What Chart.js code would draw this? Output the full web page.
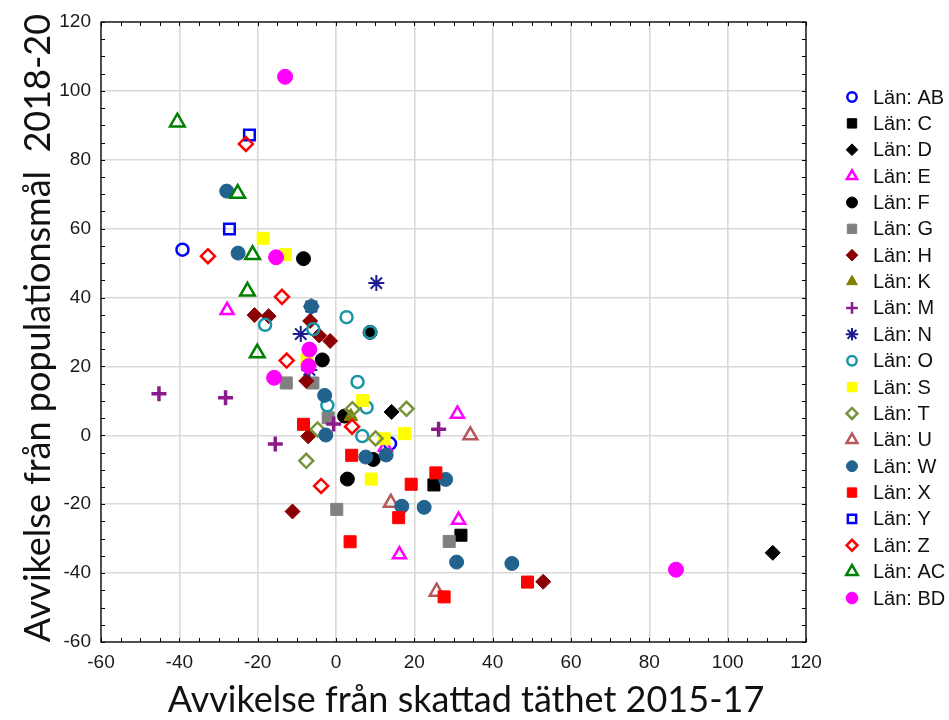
<!DOCTYPE html>
<html>
<head>
<meta charset="utf-8">
<script src="https://cdn.jsdelivr.net/npm/chart.js@4"></script>
<style>
  html, body { margin: 0; padding: 0; background: #ffffff; }
  #wrap { width: 949px; height: 720px; }
</style>
</head>
<body>
<div id="wrap"><canvas id="c" width="949" height="720"></canvas></div>
<script>
// Deviation from estimated density 2015-17 (x) vs deviation from population target 2018-20 (y), per county
const lanAB = [[-39.2, 53.9], [13.8, -2.4]];
const lanC  = [[25.0, -14.4], [31.9, -29.0]];
const lanD  = [[14.2, 6.8], [111.5, -34.1]];
const lanE  = [[-27.8, 36.3], [31.0, 6.2], [12.6, -3.4], [31.3, -24.6], [16.2, -34.6]];
const lanF  = [[-8.3, 51.3], [8.7, 29.9], [-3.5, 21.9], [2.2, 5.6], [9.5, -7.0], [2.9, -12.7]];
const lanG  = [[-12.7, 15.2], [-5.9, 15.2], [-2.0, 5.1], [0.2, -21.5], [28.9, -30.8]];
const lanH  = [[-20.8, 34.9], [-17.2, 34.6], [-6.6, 33.2], [-4.3, 29.0], [-1.5, 27.4], [-7.6, 15.8], [-7.1, -0.3], [-11.1, -22.1], [52.9, -42.5]];
const lanK  = [[3.8, 5.5]];
const lanM  = [[-45.2, 12.1], [-28.2, 10.9], [-15.5, -2.5], [-0.6, 3.3], [26.2, 1.8]];
const lanN  = [[10.3, 44.2], [-6.3, 37.4], [-9.0, 29.4], [-6.8, 19.0]];
const lanO  = [[-18.1, 32.1], [2.7, 34.3], [-5.8, 30.8], [8.7, 29.9], [5.5, 15.5], [-2.2, 8.7], [7.8, 8.1], [6.7, -0.2]];
const lanS  = [[-18.6, 57.2], [-12.9, 52.5], [-7.4, 22.0], [6.8, 10.1], [12.3, -1.0], [17.5, 0.5], [9.0, -12.7]];
const lanT  = [[18.0, 7.7], [4.2, 7.6], [-4.7, 1.7], [10.1, -0.9], [-7.6, -7.4]];
const lanU  = [[34.3, 0.0], [14.0, -19.6], [25.7, -45.4]];
const lanW  = [[-27.9, 70.9], [-25.0, 52.9], [-6.3, 37.4], [-2.9, 11.6], [-2.6, 0.1], [7.6, -6.3], [12.8, -5.7], [28.0, -12.8], [16.8, -20.6], [22.5, -20.9], [30.8, -36.8], [44.9, -37.2]];
const lanX  = [[-8.3, 3.2], [4.0, -5.8], [25.5, -10.9], [19.2, -14.2], [16.0, -23.9], [3.6, -30.9], [48.9, -42.6], [27.6, -46.9]];
const lanY  = [[-22.1, 87.2], [-27.2, 59.9]];
const lanZ  = [[-23.0, 84.6], [-32.7, 52.0], [-13.8, 40.2], [-12.6, 21.7], [4.1, 2.5], [-3.8, -14.7]];
const lanAC = [[-40.5, 90.9], [-25.1, 70.2], [-21.3, 52.4], [-22.6, 41.8], [-20.1, 23.9]];
const lanBD = [[-13.0, 104.1], [-15.3, 51.7], [-6.8, 24.9], [-7.0, 20.1], [-15.8, 16.7], [86.8, -39.0]];

const lanCodes = ['AB', 'C', 'D', 'E', 'F', 'G', 'H', 'K', 'M', 'N', 'O', 'S', 'T', 'U', 'W', 'X', 'Y', 'Z', 'AC', 'BD'];
const lanValues = [lanAB, lanC, lanD, lanE, lanF, lanG, lanH, lanK, lanM, lanN, lanO, lanS, lanT, lanU, lanW, lanX, lanY, lanZ, lanAC, lanBD];

const axisMin = -60;
const axisMax = 120;
const axisStep = 20;
const xTitle = 'Avvikelse från skattad täthet 2015-17';
const yTitle = 'Avvikelse från populationsmål  2018-20';

// marker look for each county: [pointStyle, colour, filled, radius, borderWidth]
const markerStyles = {
  AB: ['circle',   '#0000ff', false, 6,   2.5],
  C:  ['rect',     '#000000', true,  8.5, 1],
  D:  ['rectRot',  '#000000', true,  7.5, 1],
  E:  ['triangle', '#ff00ff', false, 7.5, 2.5],
  F:  ['circle',   '#000000', true,  7,   1],
  G:  ['rect',     '#808080', true,  8.5, 1],
  H:  ['rectRot',  '#8b0000', true,  7.5, 1],
  K:  ['triangle', '#808000', true,  8,   1],
  M:  ['cross',    '#8b1a8b', false, 7.5, 3.5],
  N:  ['star',     '#1c1c8e', false, 8,   2],
  O:  ['circle',   '#1a95a5', false, 6,   2.5],
  S:  ['rect',     '#ffff00', true,  8.5, 1],
  T:  ['rectRot',  '#77933c', false, 7,   2.5],
  U:  ['triangle', '#b5585a', false, 8,   2.5],
  W:  ['circle',   '#21628f', true,  7,   1],
  X:  ['rect',     '#ff0000', true,  8.5, 1],
  Y:  ['rect',     '#0000ff', false, 7.5, 2.5],
  Z:  ['rectRot',  '#ff0000', false, 7,   2.5],
  AC: ['triangle', '#008000', false, 8.5, 2.5],
  BD: ['circle',   '#ff00ff', true,  7.5, 1]
};

const datasets = lanCodes.map((code, i) => {
  const [style, colour, filled, r, bw] = markerStyles[code];
  return {
    label: 'Län: ' + code,
    data: lanValues[i].map(([x, y]) => ({ x, y })),
    pointStyle: style,
    pointRadius: r,
    pointHoverRadius: r,
    pointBorderWidth: bw,
    pointHoverBorderWidth: bw,
    borderColor: colour,
    backgroundColor: filled ? colour : 'rgba(0,0,0,0)',
    order: -i
  };
});

const sansFont = '"Liberation Sans", Arial, sans-serif';
const titleFont = 'Lato, "Open Sans", sans-serif';

// frame with inward minor ticks on all four sides
const framePlugin = {
  id: 'frame',
  beforeDatasetsDraw(chart) {
    const { ctx, chartArea: a, scales } = chart;
    ctx.save();
    ctx.strokeStyle = '#000000';
    ctx.lineWidth = 1.3;
    ctx.strokeRect(a.left, a.top, a.right - a.left, a.bottom - a.top);
    ctx.lineWidth = 1;
    ctx.beginPath();
    for (let v = axisMin; v <= axisMax; v += 5) {
      const px = Math.round(scales.x.getPixelForValue(v)) + 0.5;
      const py = Math.round(scales.y.getPixelForValue(v)) + 0.5;
      ctx.moveTo(px, a.bottom); ctx.lineTo(px, a.bottom - 4);
      ctx.moveTo(px, a.top);    ctx.lineTo(px, a.top + 4);
      ctx.moveTo(a.left, py);   ctx.lineTo(a.left + 4, py);
      ctx.moveTo(a.right, py);  ctx.lineTo(a.right - 4, py);
    }
    ctx.stroke();
    ctx.restore();
  }
};

// axis titles and the county legend on the right
const labelsPlugin = {
  id: 'labels',
  afterDraw(chart) {
    const { ctx } = chart;
    ctx.save();
    ctx.fillStyle = '#111111';
    ctx.font = '36px ' + titleFont;
    ctx.textAlign = 'center';
    ctx.textBaseline = 'alphabetic';
    ctx.fillText(xTitle, 466, 712);
    ctx.translate(50, 328);
    ctx.rotate(-Math.PI / 2);
    ctx.fillText(yTitle, 0, 0);
    ctx.restore();

    ctx.save();
    ctx.font = '20px ' + sansFont;
    ctx.textAlign = 'left';
    ctx.textBaseline = 'middle';
    chart.data.datasets.forEach((ds, i) => {
      const y = 97 + i * 26.37;
      ctx.strokeStyle = ds.borderColor;
      ctx.fillStyle = ds.backgroundColor;
      ctx.lineWidth = Math.min(ds.pointBorderWidth, 2.5);
      Chart.helpers.drawPoint(ctx, {
        pointStyle: ds.pointStyle,
        radius: ds.pointRadius * 0.78,
        borderWidth: ctx.lineWidth,
        rotation: 0
      }, 852, y);
      ctx.fillStyle = '#111111';
      ctx.fillText(ds.label, 873, y + 1);
    });
    ctx.restore();
  }
};

new Chart(document.getElementById('c'), {
  type: 'scatter',
  data: { datasets },
  options: {
    responsive: false,
    animation: false,
    layout: { padding: { top: 22, right: 143, bottom: 0, left: 0 } },
    plugins: { legend: { display: false }, tooltip: { enabled: false } },
    scales: {
      x: {
        type: 'linear',
        min: axisMin, max: axisMax,
        ticks: { stepSize: axisStep, padding: 9, color: '#1a1a1a', font: { family: sansFont, size: 19 } },
        grid: { color: '#d9d9d9', lineWidth: 1.6, drawTicks: false },
        border: { display: false },
        afterFit(scale) { scale.height = 78; }
      },
      y: {
        type: 'linear',
        min: axisMin, max: axisMax,
        ticks: { stepSize: axisStep, padding: 10, color: '#1a1a1a', font: { family: sansFont, size: 19 } },
        grid: { color: '#d9d9d9', lineWidth: 1.6, drawTicks: false },
        border: { display: false },
        afterFit(scale) { scale.width = 101; }
      }
    }
  },
  plugins: [framePlugin, labelsPlugin]
});
</script>
</body>
</html>
